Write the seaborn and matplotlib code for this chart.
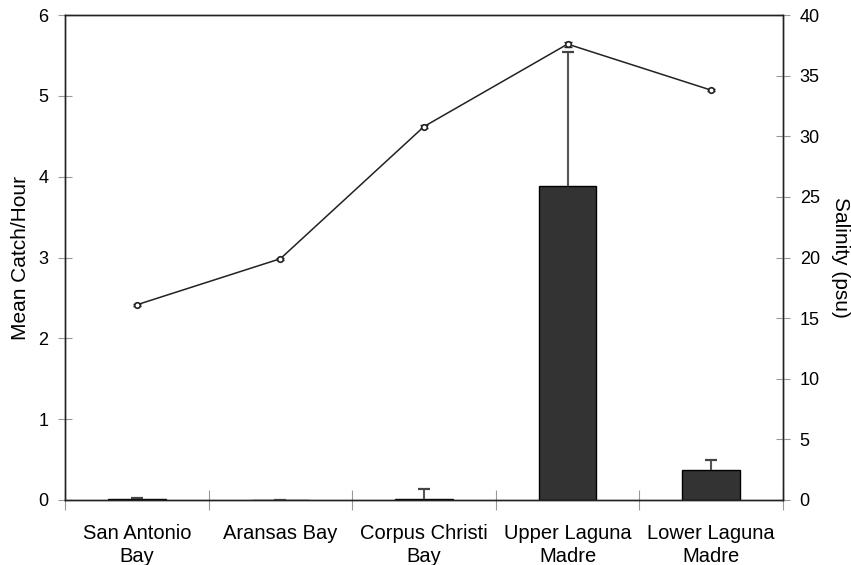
import matplotlib
matplotlib.use("Agg")
import matplotlib.pyplot as plt
import seaborn as sns
import pandas as pd
import numpy as np

# Sites along the Texas coast
sites = ["San Antonio\nBay", "Aransas Bay", "Corpus Christi\nBay",
         "Upper Laguna\nMadre", "Lower Laguna\nMadre"]
# Mean catch per hour and its standard error
catch_mean = [0.01, 0.005, 0.01, 3.88, 0.37]
catch_se = [0.01, 0.0, 0.12, 1.66, 0.12]
# Mean salinity (psu) and its standard error
salinity_mean = [16.1, 19.9, 30.8, 37.6, 33.8]
salinity_se = [0.1, 0.1, 0.1, 0.2, 0.1]

df = pd.DataFrame({"site": sites, "catch": catch_mean, "salinity": salinity_mean})

sns.set_style("white")
plt.rcParams["font.family"] = ["Liberation Sans", "DejaVu Sans"]
plt.rcParams["text.color"] = "black"
plt.rcParams["axes.labelcolor"] = "black"
plt.rcParams["xtick.labelcolor"] = "black"
plt.rcParams["ytick.labelcolor"] = "black"

fig = plt.figure(figsize=(8.51, 5.65), dpi=100)
ax = fig.add_axes([65 / 851, 65 / 565, 718 / 851, 485 / 565])

sns.barplot(data=df, x="site", y="catch", ax=ax, width=0.4, color="#333333",
            edgecolor="black", linewidth=1.0, errorbar=None, saturation=1)
pos = np.arange(len(sites))
tops = np.array(catch_mean) + np.array(catch_se)
# upper-only error bars: stem from the bar top, cap at mean + SE
ax.vlines(pos, catch_mean, tops, colors="#555555", linewidth=1.5, zorder=3)
ax.plot(pos, tops, linestyle="none", marker="_", markersize=8,
        markeredgewidth=1.6, color="#444444", zorder=3)

ax.set_ylim(0, 6)
ax.set_yticks(range(0, 7))
ax.set_xlim(-0.5, len(sites) - 0.5)
ax.set_xlabel("")
ax.set_ylabel("Mean Catch/Hour", fontsize=15, labelpad=6)
ax.tick_params(axis="y", direction="inout", length=10, width=0.8, color="#999999",
               labelsize=13, pad=7, left=True)
ax.set_xticks(pos)
ax.set_xticklabels(sites, fontsize=14.5, linespacing=1.3)
ax.tick_params(axis="x", which="major", length=0, pad=17)
ax.set_xticks(np.arange(-0.5, len(sites), 1.0), minor=True)
ax.tick_params(axis="x", which="minor", direction="inout", length=14, width=0.8,
               color="#999999", bottom=True)

ax2 = ax.twinx()
sns.pointplot(data=df, x="site", y="salinity", ax=ax2, color="#222222",
              markers="o", linestyles="-", errorbar=None, markersize=4,
              markerfacecolor="white", markeredgewidth=1.2, linewidth=1.1,
              native_scale=False)
ax2.errorbar(pos, salinity_mean, yerr=salinity_se, fmt="none", ecolor="#222222",
             elinewidth=1.0, capsize=3, capthick=1.0, zorder=1)
ax2.set_ylim(0, 40)
ax2.set_yticks(range(0, 41, 5))
ax2.set_xlim(-0.5, len(sites) - 0.5)
ax2.set_ylabel("Salinity (psu)", fontsize=15, rotation=270, labelpad=22)
ax2.tick_params(axis="y", direction="inout", length=10, width=0.8, color="#999999",
                labelsize=13, pad=7, right=True)
ax2.set_xlabel("")

for a in (ax, ax2):
    for side in ("left", "right", "top", "bottom"):
        a.spines[side].set_visible(True)
        a.spines[side].set_color("#222222")
        a.spines[side].set_linewidth(1.0)

fig.savefig("out.png", dpi=100)
